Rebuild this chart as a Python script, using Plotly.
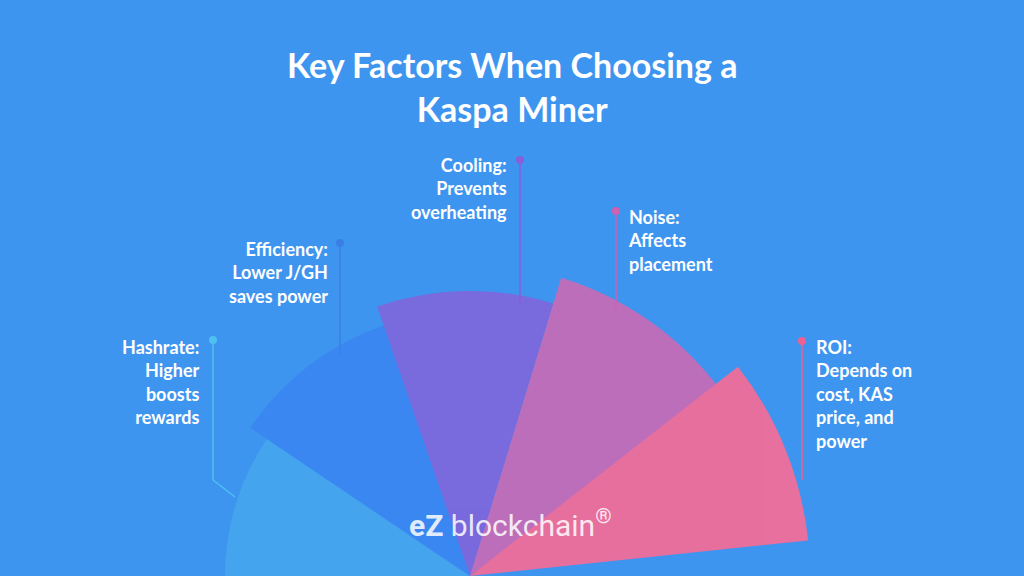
import plotly.graph_objects as go

factors = ["Hashrate", "Efficiency", "Cooling", "Noise", "ROI"]
reach = [245, 265, 285, 312, 340]
centre_deg = [165, 127, 91, 55, 22]
span_deg = [38, 38, 36, 36, 32]
colors = ["#45a6ee", "#3b86f2", "#7e66dc", "#c76bb6", "#f56c97"]

labels = [
    "Hashrate:<br>Higher<br>boosts<br>rewards",
    "Efficiency:<br>Lower J/GH<br>saves power",
    "Cooling:<br>Prevents<br>overheating",
    "Noise:<br>Affects<br>placement",
    "ROI:<br>Depends on<br>cost, KAS<br>price, and<br>power",
]
# label anchor (px), alignment, leader dot (px), leader end (px)
label_pos = [(202, 334, "right"), (330, 236, "right"), (509, 152, "right"),
             (626, 204, "left"), (814, 334, "left")]
dots = [(213, 340, 480), (340, 243, 355), (520, 160, 305), (616, 211, 310), (802, 341, 480)]
dot_colors = ["#4fc0f0", "#3a7fe8", "#8a5ed8", "#d060b0", "#f0608f"]

W, H = 1024, 576
px = lambda x: x / W
py = lambda y: 1 - y / H

fig = go.Figure(go.Barpolar(
    r=reach, theta=centre_deg, width=span_deg,
    marker=dict(color=colors, line=dict(width=0)), opacity=0.92,
    hoverinfo="skip",
))

shapes, annos = [], []
for (x, y0, y1), c in zip(dots, dot_colors):
    shapes.append(dict(type="line", xref="paper", yref="paper", x0=px(x), x1=px(x),
                       y0=py(y0), y1=py(y1), line=dict(color=c, width=1.5)))
    shapes.append(dict(type="circle", xref="paper", yref="paper",
                       x0=px(x - 4), x1=px(x + 4), y0=py(y0 - 4), y1=py(y0 + 4),
                       fillcolor=c, line=dict(width=0)))
shapes.append(dict(type="line", xref="paper", yref="paper", x0=px(213), x1=px(235),
                   y0=py(480), y1=py(497), line=dict(color=dot_colors[0], width=1.5)))

for t, (x, y, al) in zip(labels, label_pos):
    annos.append(dict(text=t, x=px(x), y=py(y), xref="paper", yref="paper",
                      xanchor="right" if al == "right" else "left", yanchor="top",
                      align=al, showarrow=False,
                      font=dict(family="Lato", size=18, color="white", weight="bold")))

annos.append(dict(text="Key Factors When Choosing a<br>Kaspa Miner", x=0.5, y=py(42),
                  xref="paper", yref="paper", yanchor="top", showarrow=False,
                  font=dict(family="Lato", size=34, color="white", weight="bold")))
annos.append(dict(text="<b>eZ</b> blockchain<sup>®</sup>", x=px(510), y=py(545),
                  xref="paper", yref="paper", showarrow=False,
                  font=dict(family="Roboto", size=30, color="rgba(255,255,255,0.85)")))

fig.update_layout(
    width=W, height=H, margin=dict(l=0, r=0, t=0, b=0),
    paper_bgcolor="#3e95ef", showlegend=False,
    polar=dict(
        bgcolor="rgba(0,0,0,0)", sector=[0, 180],
        domain=dict(x=[px(470 - 360), px(470 + 360)], y=[0, 360 / H]),
        radialaxis=dict(range=[0, 360], visible=False),
        angularaxis=dict(visible=False, rotation=0, direction="counterclockwise"),
    ),
    shapes=shapes, annotations=annos,
)

fig.write_html("out.html", config={"displayModeBar": False},
               post_script="document.body.style.margin='0';document.body.style.background='#3e95ef';")
